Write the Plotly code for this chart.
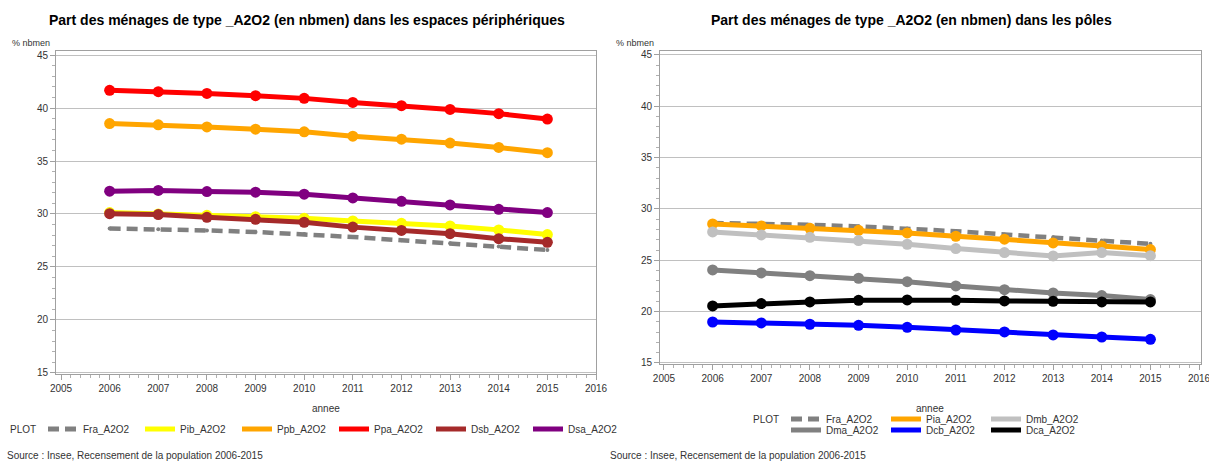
import plotly.graph_objects as go

W, H = 1209, 462

years = [2006, 2007, 2008, 2009, 2010, 2011, 2012, 2013, 2014, 2015]

# Left panel: espaces périphériques
fra_a2o2 = [28.63, 28.57, 28.45, 28.30, 28.10, 27.83, 27.52, 27.24, 26.93, 26.60]
pib_a2o2 = [30.13, 30.00, 29.87, 29.75, 29.60, 29.34, 29.12, 28.87, 28.50, 28.06]
ppb_a2o2 = [38.53, 38.41, 38.22, 38.00, 37.75, 37.34, 37.06, 36.69, 36.28, 35.78]
ppa_a2o2 = [41.67, 41.54, 41.38, 41.16, 40.91, 40.53, 40.22, 39.87, 39.47, 38.96]
dsb_a2o2 = [30.03, 29.94, 29.69, 29.50, 29.22, 28.76, 28.45, 28.14, 27.67, 27.33]
dsa_a2o2 = [32.15, 32.22, 32.12, 32.06, 31.87, 31.52, 31.20, 30.85, 30.44, 30.13]

# Right panel: pôles
pia_a2o2 = [28.54, 28.34, 28.12, 27.92, 27.66, 27.34, 27.05, 26.69, 26.40, 26.04]
dmb_a2o2 = [27.76, 27.47, 27.24, 26.92, 26.56, 26.14, 25.75, 25.42, 25.75, 25.45]
dma_a2o2 = [24.06, 23.77, 23.50, 23.25, 22.92, 22.50, 22.14, 21.82, 21.56, 21.17]
dcb_a2o2 = [18.99, 18.90, 18.77, 18.67, 18.47, 18.21, 18.02, 17.73, 17.53, 17.30]
dca_a2o2 = [20.55, 20.78, 20.94, 21.10, 21.14, 21.10, 21.04, 21.00, 20.94, 20.94]

left_series = [
    ("Fra_A2O2", fra_a2o2, "#808080", True),
    ("Pib_A2O2", pib_a2o2, "#FFFF00", False),
    ("Ppb_A2O2", ppb_a2o2, "#FFA500", False),
    ("Ppa_A2O2", ppa_a2o2, "#FF0000", False),
    ("Dsb_A2O2", dsb_a2o2, "#A52A2A", False),
    ("Dsa_A2O2", dsa_a2o2, "#800080", False),
]
right_series = [
    ("Fra_A2O2", fra_a2o2, "#808080", True, "legend2"),
    ("Pia_A2O2", pia_a2o2, "#FFA500", False, "legend2"),
    ("Dmb_A2O2", dmb_a2o2, "#C0C0C0", False, "legend2"),
    ("Dma_A2O2", dma_a2o2, "#808080", False, "legend3"),
    ("Dcb_A2O2", dcb_a2o2, "#0000FF", False, "legend3"),
    ("Dca_A2O2", dca_a2o2, "#000000", False, "legend3"),
]

title_left = "Part des ménages de type _A2O2 (en nbmen) dans les espaces périphériques"
title_right = "Part des ménages de type _A2O2 (en nbmen) dans les pôles"
source = "Source : Insee, Recensement de la population 2006-2015"

FONT = "Liberation Sans, Arial, sans-serif"

def px(x):
    return x / W

def py(y):
    return 1 - y / H

fig = go.Figure()

def add(name, vals, color, dashed, xa, ya, legend):
    line = dict(color=color, width=4.5, dash="11px,6px") if dashed else dict(color=color, width=5)
    msize = 4 if dashed else 11
    # data trace
    fig.add_trace(go.Scatter(
        x=years, y=vals, name=name, mode="lines+markers",
        line=line, marker=dict(size=msize, color=color),
        xaxis=xa, yaxis=ya, showlegend=False, legend=legend))
    # legend entry (line symbol only)
    fig.add_trace(go.Scatter(
        x=[None], y=[None], name=name, mode="lines",
        line=dict(line, width=5),
        xaxis=xa, yaxis=ya, showlegend=True, legend=legend, hoverinfo="skip"))

for name, vals, color, dashed in left_series:
    add(name, vals, color, dashed, "x", "y", "legend")
for name, vals, color, dashed, lg in right_series:
    add(name, vals, color, dashed, "x2", "y2", lg)

axis_common = dict(
    showline=True, mirror=True, linecolor="#a0a0a0", linewidth=1,
    ticks="outside", ticklen=5, tickcolor="#a0a0a0",
    tickfont=dict(family=FONT, size=10, color="#333333"),
    zeroline=False, automargin=False, ticklabeloverflow="allow",
)
xcommon = dict(axis_common, dtick=1, tick0=2005, showgrid=False,
               minor=dict(dtick=0.2, ticks="outside", ticklen=3, tickcolor="#b0b0b0", showgrid=False))
ycommon = dict(axis_common, dtick=5, tick0=15, showgrid=True, gridcolor="#c0c0c0", gridwidth=1,
               minor=dict(dtick=1, ticks="outside", ticklen=3, tickcolor="#b0b0b0", showgrid=False))

yr = [14.9, 45.38]

legfont = dict(family=FONT, size=10, color="#333333")

fig.update_layout(
    width=W, height=H,
    margin=dict(l=0, r=0, t=0, b=0, autoexpand=False),
    paper_bgcolor="white", plot_bgcolor="white",
    font=dict(family=FONT, size=10, color="#333333"),
    xaxis=dict(xcommon, domain=[px(56), px(596)], range=[2004.897, 2016.0], anchor="y"),
    yaxis=dict(ycommon, domain=[py(374), py(51)], range=yr, anchor="x"),
    xaxis2=dict(xcommon, domain=[px(660), px(1201)], range=[2004.918, 2016.04], anchor="y2"),
    yaxis2=dict(ycommon, domain=[py(364), py(51)], range=yr, anchor="x2"),
    legend=dict(orientation="h", x=px(43), xanchor="left", y=py(429), yanchor="middle",
                entrywidth=52, font=legfont, bgcolor="rgba(0,0,0,0)", traceorder="normal"),
    legend2=dict(orientation="h", x=px(786), xanchor="left", y=py(419), yanchor="middle",
                 entrywidth=55, font=legfont, bgcolor="rgba(0,0,0,0)", traceorder="normal"),
    legend3=dict(orientation="h", x=px(786), xanchor="left", y=py(430), yanchor="middle",
                 entrywidth=55, font=legfont, bgcolor="rgba(0,0,0,0)", traceorder="normal"),
    showlegend=True,
)

ann = []
ann.append(dict(text="<b>%s</b>" % title_left, x=px(307), y=py(20), xref="paper", yref="paper",
                xanchor="center", yanchor="middle", showarrow=False,
                font=dict(family=FONT, size=14, color="black")))
ann.append(dict(text="<b>%s</b>" % title_right, x=px(911), y=py(20), xref="paper", yref="paper",
                xanchor="center", yanchor="middle", showarrow=False,
                font=dict(family=FONT, size=14, color="black")))
for xl in (10, 614):
    ann.append(dict(text="% nbmen", x=px(xl), y=py(43), xref="paper", yref="paper",
                    xanchor="left", yanchor="middle", showarrow=False,
                    font=dict(family=FONT, size=9, color="#333333")))
for xc in (326, 930):
    ann.append(dict(text="annee", x=px(xc), y=py(408), xref="paper", yref="paper",
                    xanchor="center", yanchor="middle", showarrow=False,
                    font=dict(family=FONT, size=10, color="#333333")))
ann.append(dict(text="PLOT", x=px(8), y=py(429), xref="paper", yref="paper",
                xanchor="left", yanchor="middle", showarrow=False,
                font=dict(family=FONT, size=10, color="#333333")))
ann.append(dict(text="PLOT", x=px(751), y=py(419), xref="paper", yref="paper",
                xanchor="left", yanchor="middle", showarrow=False,
                font=dict(family=FONT, size=10, color="#333333")))
for xl in (5, 608):
    ann.append(dict(text=source, x=px(xl), y=py(455), xref="paper", yref="paper",
                    xanchor="left", yanchor="middle", showarrow=False,
                    font=dict(family=FONT, size=10, color="#333333")))
fig.update_layout(annotations=ann)

fig.write_html("out.html", config={"displayModeBar": False},
               post_script="document.body.style.margin='0px';document.body.style.overflow='hidden';")
